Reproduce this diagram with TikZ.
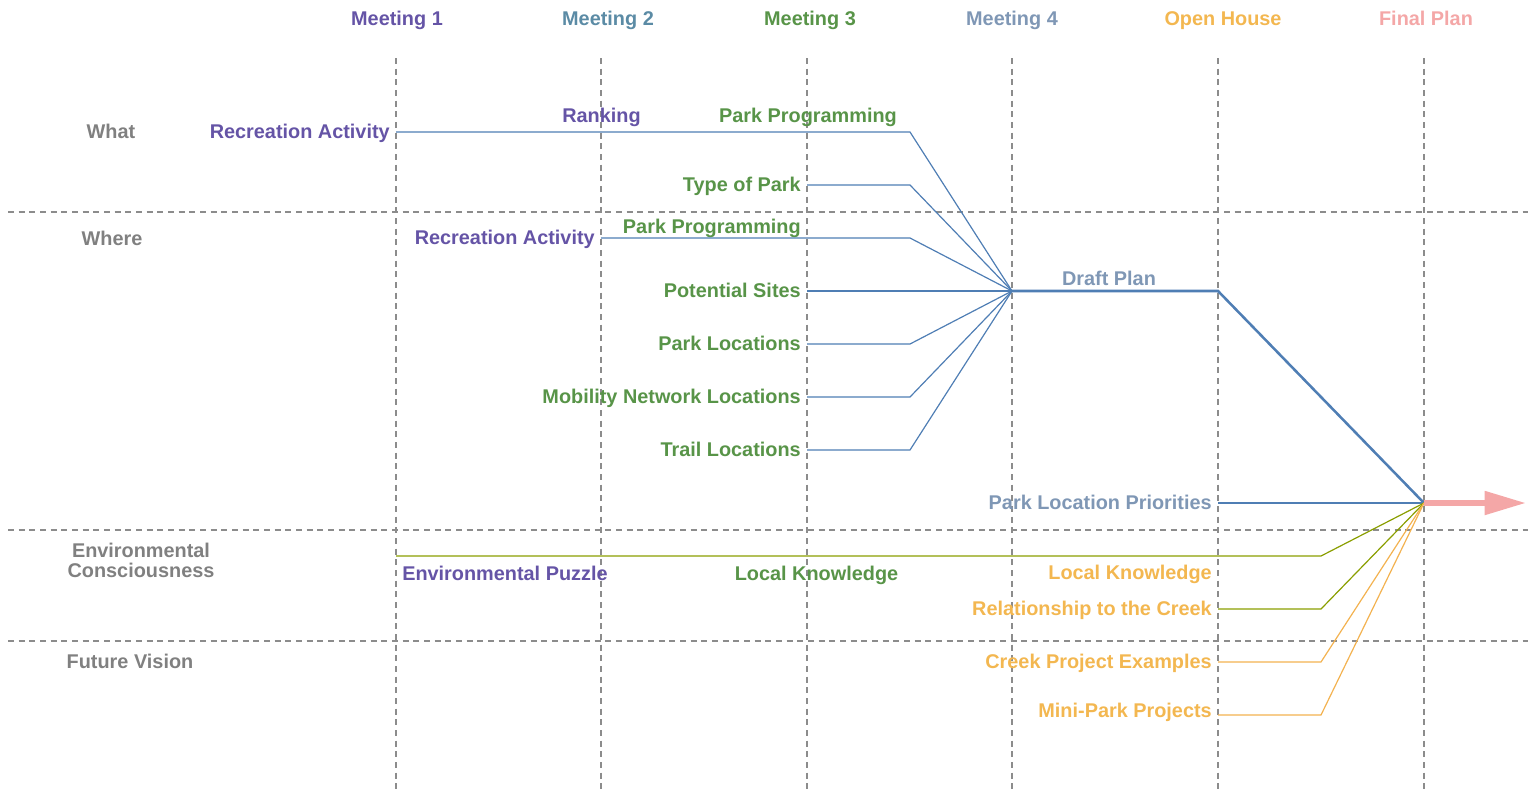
\documentclass[tikz,border=0pt]{standalone}
\usepackage{fontspec}
\setmainfont{Liberation Sans}
\usetikzlibrary{arrows.meta}

\definecolor{mone}{RGB}{101,84,166}
\definecolor{mtwo}{RGB}{91,139,165}
\definecolor{mthree}{RGB}{88,148,72}
\definecolor{mfour}{RGB}{127,151,181}
\definecolor{ohouse}{RGB}{243,183,80}
\definecolor{fplan}{RGB}{244,167,167}
\definecolor{rowgray}{RGB}{128,128,128}
\definecolor{gridgray}{RGB}{140,140,140}
\definecolor{flowblue}{RGB}{79,126,180}
\definecolor{flowolive}{RGB}{138,158,0}
\definecolor{floworange}{RGB}{243,178,80}

\tikzset{
  lbl/.style={font=\fontsize{14.9}{15}\selectfont\bfseries, inner sep=0pt,
    inner xsep=4.5pt, text height=10.7pt, text depth=1.6pt},
  rowlbl/.style={lbl, text=rowgray, align=center},
  grid/.style={gridgray, line width=0.9pt, dash pattern=on 4.5pt off 3.5pt},
  flow/.style={flowblue, line width=0.9pt},
  draftflow/.style={flowblue, line width=1.9pt},
  envflow/.style={flowolive, line width=0.9pt},
  visflow/.style={floworange, line width=0.9pt},
  planarrow/.style={fplan, line width=4.5pt,
    -{Triangle[length=31pt,width=17pt]}}
}

\begin{document}
\begin{tikzpicture}[x=0.75pt,y=-0.75pt]
\useasboundingbox (0,0) rectangle (1536,793);

% columns and rows
\foreach \cx in {396,601,807,1012,1218,1424}
  \draw[grid] (\cx,58) -- (\cx,793);
\foreach \ry in {212,530,641}
  \draw[grid] (8,\ry) -- (1528,\ry);

\node[lbl, text=mone]   (m1) at (397,19.5)  {Meeting 1};
\node[lbl, text=mtwo]   (m2) at (608,19.5)  {Meeting 2};
\node[lbl, text=mthree] (m3) at (810,19.5)  {Meeting 3};
\node[lbl, text=mfour]  (m4) at (1012,19.5) {Meeting 4};
\node[lbl, text=ohouse] (oh) at (1223,19.5) {Open House};
\node[lbl, text=fplan]  (fp) at (1426,19.5) {Final Plan};

\node[rowlbl] (what)   at (111,132) {What};
\node[rowlbl] (where)  at (112,239) {Where};
\node[rowlbl] (envc)   at (141,571) {Environmental\\Consciousness};
\node[rowlbl] (future) at (130,662) {Future Vision};

% merge points and bends
\coordinate (draft) at (1012,291);
\coordinate (final) at (1424,503);
\coordinate (bendA) at (910,0);
\coordinate (bendB) at (1321,0);
\coordinate (ohcol) at (1218,0);
\coordinate (envstart) at (396,556);
\coordinate (tip) at (1526,503);

% what / where
\node[lbl, text=mone, anchor=east]   (recwhat)  at (396,132) {Recreation Activity};
\node[lbl, text=mone]                (ranking)  at (601.5,116) {Ranking};
\node[lbl, text=mthree]              (progwhat) at (808,116) {Park Programming};
\node[lbl, text=mthree, anchor=east] (typepark) at (807,185) {Type of Park};
\node[lbl, text=mone, anchor=east]   (recwhere) at (601,238) {Recreation Activity};
\node[lbl, text=mthree, anchor=east] (progwhere) at (807,227) {Park Programming};
\node[lbl, text=mthree, anchor=east] (sites)    at (807,291) {Potential Sites};
\node[lbl, text=mthree, anchor=east] (parkloc)  at (807,344) {Park Locations};
\node[lbl, text=mthree, anchor=east] (mobility) at (807,397) {Mobility Network Locations};
\node[lbl, text=mthree, anchor=east] (trail)    at (807,450) {Trail Locations};

\draw[flow] (recwhat.east) -- (recwhat.east -| bendA) -- (draft);
\draw[flow] (typepark.east) -- (typepark.east -| bendA) -- (draft);
\draw[flow] (recwhere.east) -- (recwhere.east -| bendA) -- (draft);
\draw[flow] (sites.east) -- (draft);
\draw[flow] (parkloc.east) -- (parkloc.east -| bendA) -- (draft);
\draw[flow] (mobility.east) -- (mobility.east -| bendA) -- (draft);
\draw[flow] (trail.east) -- (trail.east -| bendA) -- (draft);

\node[lbl, text=mfour] (draftlbl) at (1109,279) {Draft Plan};
\draw[draftflow] (draft) -- (draft -| ohcol) -- (final);

\node[lbl, text=mfour, anchor=east] (priorities) at (1218,503) {Park Location Priorities};
\draw[flow] (priorities.east) -- (final);

% environment / future vision
\node[lbl, text=mone, anchor=west]     (puzzle)    at (396,574) {Environmental Puzzle};
\node[lbl, text=mthree]                (localm3)   at (816.5,574) {Local Knowledge};
\node[lbl, text=ohouse, anchor=east]   (localoh)   at (1218,573) {Local Knowledge};
\node[lbl, text=ohouse, anchor=east]   (creekrel)  at (1218,609) {Relationship to the Creek};
\node[lbl, text=ohouse, anchor=east]   (creekex)   at (1218,662) {Creek Project Examples};
\node[lbl, text=ohouse, anchor=east]   (minipark)  at (1218,711) {Mini-Park Projects};

\draw[envflow] (envstart) -- (envstart -| bendB) -- (final);
\draw[envflow] (creekrel.east) -- (creekrel.east -| bendB) -- (final);
\draw[visflow] (creekex.east) -- (creekex.east -| bendB) -- (final);
\draw[visflow] ([yshift=-3pt]minipark.east) -- ([yshift=-3pt]minipark.east -| bendB) -- (final);

\draw[planarrow] (final) -- (tip);
\end{tikzpicture}
\end{document}
